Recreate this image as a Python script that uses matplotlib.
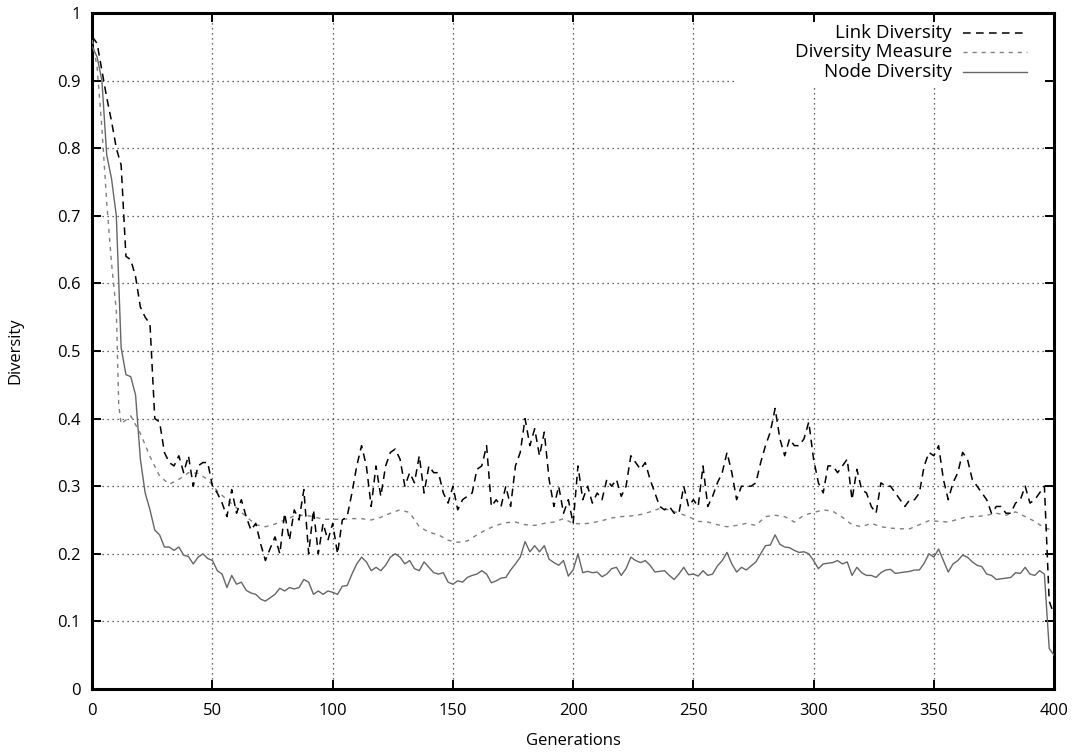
import matplotlib
matplotlib.use("Agg")
import matplotlib.pyplot as plt
from matplotlib.patches import Rectangle

plt.rcParams['font.family'] = ['Open Sans', 'DejaVu Sans']

# generations sampled every 2 for the noisy series
gen = list(range(0, 401, 2))

link_diversity = [
    0.965, 0.955, 0.915, 0.875, 0.84, 0.80, 0.775, 0.64, 0.635, 0.61,
    0.565, 0.55, 0.54, 0.40, 0.395, 0.35, 0.335, 0.33, 0.345, 0.32,
    0.345, 0.30, 0.33, 0.335, 0.335, 0.30, 0.29, 0.275, 0.255, 0.295,
    0.26, 0.28, 0.255, 0.235, 0.245, 0.215, 0.19, 0.208, 0.225, 0.20,
    0.26, 0.22, 0.265, 0.25, 0.295, 0.20, 0.265, 0.20, 0.245, 0.22,
    0.245, 0.20, 0.25, 0.255, 0.29, 0.33, 0.36, 0.33, 0.27, 0.33,
    0.285, 0.33, 0.35, 0.355, 0.34, 0.30, 0.32, 0.305, 0.345, 0.29,
    0.33, 0.32, 0.32, 0.29, 0.275, 0.30, 0.265, 0.28, 0.285, 0.29,
    0.325, 0.33, 0.36, 0.27, 0.28, 0.27, 0.30, 0.27, 0.33, 0.35,
    0.40, 0.36, 0.385, 0.345, 0.38, 0.31, 0.27, 0.30, 0.26, 0.28,
    0.245, 0.33, 0.28, 0.30, 0.275, 0.29, 0.28, 0.31, 0.30, 0.31,
    0.285, 0.30, 0.345, 0.335, 0.325, 0.335, 0.31, 0.29, 0.27, 0.265,
    0.27, 0.26, 0.26, 0.30, 0.27, 0.28, 0.27, 0.33, 0.27, 0.285,
    0.305, 0.32, 0.35, 0.32, 0.28, 0.30, 0.30, 0.30, 0.305, 0.335,
    0.36, 0.38, 0.415, 0.37, 0.345, 0.37, 0.36, 0.36, 0.37, 0.395,
    0.34, 0.305, 0.29, 0.33, 0.33, 0.32, 0.33, 0.34, 0.28, 0.325,
    0.295, 0.29, 0.27, 0.26, 0.305, 0.30, 0.30, 0.29, 0.28, 0.27,
    0.28, 0.28, 0.29, 0.33, 0.35, 0.345, 0.36, 0.31, 0.28, 0.305,
    0.32, 0.35, 0.34, 0.31, 0.30, 0.29, 0.28, 0.26, 0.27, 0.27,
    0.26, 0.26, 0.275, 0.28, 0.30, 0.275, 0.28, 0.29, 0.30, 0.13,
    0.11]

node_diversity = [
    0.95, 0.935, 0.90, 0.79, 0.755, 0.70, 0.505, 0.465, 0.462, 0.435,
    0.34, 0.29, 0.265, 0.235, 0.228, 0.21, 0.21, 0.205, 0.21, 0.198,
    0.196, 0.185, 0.195, 0.20, 0.193, 0.19, 0.175, 0.17, 0.15, 0.168,
    0.155, 0.158, 0.146, 0.142, 0.14, 0.133, 0.13, 0.135, 0.14, 0.149,
    0.145, 0.15, 0.148, 0.15, 0.162, 0.158, 0.14, 0.145, 0.14, 0.145,
    0.143, 0.14, 0.152, 0.153, 0.17, 0.185, 0.195, 0.188, 0.175, 0.18,
    0.175, 0.183, 0.195, 0.20, 0.195, 0.185, 0.19, 0.178, 0.175, 0.188,
    0.18, 0.172, 0.17, 0.172, 0.158, 0.155, 0.16, 0.158, 0.165, 0.168,
    0.17, 0.175, 0.17, 0.157, 0.16, 0.164, 0.165, 0.176, 0.185, 0.195,
    0.218, 0.203, 0.212, 0.203, 0.212, 0.192, 0.187, 0.183, 0.19, 0.167,
    0.176, 0.20, 0.172, 0.174, 0.172, 0.173, 0.166, 0.17, 0.178, 0.18,
    0.168, 0.178, 0.195, 0.19, 0.187, 0.19, 0.183, 0.173, 0.174, 0.175,
    0.168, 0.162, 0.17, 0.18, 0.169, 0.17, 0.167, 0.175, 0.168, 0.17,
    0.182, 0.19, 0.202, 0.185, 0.173, 0.18, 0.176, 0.182, 0.188, 0.20,
    0.212, 0.213, 0.228, 0.214, 0.21, 0.209, 0.205, 0.202, 0.203, 0.20,
    0.19, 0.178, 0.185, 0.186, 0.187, 0.19, 0.185, 0.188, 0.168, 0.18,
    0.172, 0.168, 0.168, 0.165, 0.172, 0.176, 0.177, 0.171, 0.172, 0.173,
    0.174, 0.176, 0.176, 0.186, 0.20, 0.195, 0.207, 0.19, 0.173, 0.185,
    0.19, 0.198, 0.195, 0.188, 0.183, 0.181, 0.17, 0.168, 0.162, 0.163,
    0.164, 0.165, 0.172, 0.171, 0.18, 0.17, 0.168, 0.175, 0.17, 0.06,
    0.05]

# the diversity measure is smooth, so fewer samples
measure_gen = [0, 2, 4, 6, 8, 10, 11, 12] + list(range(16, 401, 4))
diversity_measure = [
    0.96, 0.92, 0.83, 0.72, 0.63, 0.56, 0.42, 0.392,
    0.404, 0.378, 0.344, 0.315, 0.303, 0.31, 0.32, 0.319, 0.31, 0.293,
    0.28, 0.268, 0.255, 0.243, 0.24, 0.244, 0.25, 0.256, 0.257, 0.255,
    0.251, 0.251, 0.251, 0.252, 0.252, 0.25, 0.254, 0.26, 0.265, 0.261,
    0.24, 0.232, 0.228, 0.22, 0.217, 0.219, 0.228, 0.236, 0.242, 0.246,
    0.247, 0.243, 0.242, 0.245, 0.247, 0.252, 0.245, 0.244, 0.246, 0.249,
    0.253, 0.255, 0.256, 0.258, 0.262, 0.267, 0.265, 0.26, 0.255, 0.248,
    0.247, 0.243, 0.24, 0.242, 0.245, 0.242, 0.255, 0.257, 0.255, 0.247,
    0.257, 0.261, 0.265, 0.263, 0.254, 0.243, 0.24, 0.245, 0.24, 0.238,
    0.237, 0.237, 0.243, 0.249, 0.248, 0.247, 0.251, 0.255, 0.255, 0.257,
    0.26, 0.257, 0.262, 0.255, 0.248, 0.238, 0.235]

x_ticks = list(range(0, 401, 50))
y_ticks = [i / 10 for i in range(11)]
y_tick_labels = ['0', '0.1', '0.2', '0.3', '0.4', '0.5', '0.6', '0.7', '0.8', '0.9', '1']

fig = plt.figure(figsize=(10.73, 7.52), dpi=100)
ax = fig.add_axes([0.086, 0.0838, 0.8963, 0.8989])

ax.plot(gen, node_diversity, color='#666666', lw=1.0, zorder=3)
ax.plot(measure_gen, diversity_measure, color='#808080', lw=1.0,
        dashes=(3, 3.5), zorder=3)
ax.plot(gen, link_diversity, color='black', lw=1.1, dashes=(5, 3.5), zorder=4)

ax.set_xlim(0, 400)
ax.set_ylim(0, 1)
ax.set_xticks(x_ticks)
ax.set_yticks(y_ticks)
ax.set_yticklabels(y_tick_labels)
ax.tick_params(direction='in', top=True, right=True, length=6.5, width=1.4,
               labelsize=12, pad=10)
ax.tick_params(axis='y', pad=8.5)
ax.grid(True, color='#333333', linestyle=(0, (1, 3)), lw=0.9)
ax.set_axisbelow(True)
for s in ax.spines.values():
    s.set_linewidth(2.2)

ax.set_xlabel('Generations', fontsize=12, labelpad=10)
ax.set_ylabel('Diversity', fontsize=12, labelpad=24)

# gnuplot-style key: white box, right-aligned text, sample on the right
ax.add_patch(Rectangle((0.668, 0.892), 0.322, 0.094, transform=ax.transAxes,
                       facecolor='white', edgecolor='none', zorder=1))
key = [('Link Diversity', dict(color='black', lw=1.1, dashes=(5, 3.5))),
       ('Diversity Measure', dict(color='#808080', lw=1.0, dashes=(3, 3.5))),
       ('Node Diversity', dict(color='#666666', lw=1.0))]
key_y = [0.970, 0.942, 0.913]
for (label, style), yk in zip(key, key_y):
    ax.text(0.894, yk, label, transform=ax.transAxes, ha='right', va='center',
            fontsize=13.5, zorder=5)
    ax.plot([0.905, 0.972], [yk, yk], transform=ax.transAxes, zorder=5, **style)

fig.savefig('out.png', dpi=100)
